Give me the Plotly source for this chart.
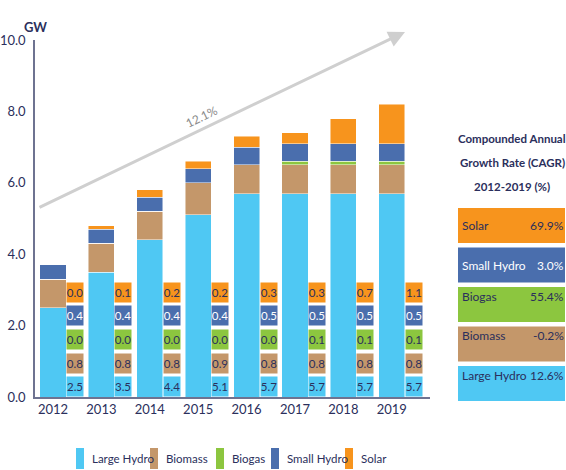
import plotly.graph_objects as go

# Installed renewable capacity by source (GW)
years = ["2012", "2013", "2014", "2015", "2016", "2017", "2018", "2019"]
large_hydro = [2.5, 3.5, 4.4, 5.1, 5.7, 5.7, 5.7, 5.7]
biomass = [0.8, 0.8, 0.8, 0.9, 0.8, 0.8, 0.8, 0.8]
biogas = [0.0, 0.0, 0.0, 0.0, 0.0, 0.1, 0.1, 0.1]
small_hydro = [0.4, 0.4, 0.4, 0.4, 0.5, 0.5, 0.5, 0.5]
solar = [0.0, 0.1, 0.2, 0.2, 0.3, 0.3, 0.7, 1.1]

series_names = ["Large Hydro", "Biomass", "Biogas", "Small Hydro", "Solar"]
series_values = [large_hydro, biomass, biogas, small_hydro, solar]
series_colors = ["#4FC8F3", "#C4976A", "#8CC63F", "#4A6EAD", "#F7941D"]
label_text_colors = ["#2B2F5C", "#2B2F5C", "#2B2F5C", "#FFFFFF", "#2B2F5C"]

# CAGR 2012-2019 (%) per source, listed top to bottom
cagr_title = ["Compounded Annual", "Growth Rate (CAGR)", "2012-2019 (%)"]
cagr_names = ["Solar", "Small Hydro", "Biogas", "Biomass", "Large Hydro"]
cagr_values = ["69.9%", "3.0%", "55.4%", "-0.2%", "12.6%"]
overall_growth = "12.1%"

NAVY = "#2B2F5C"
FONT = "Lato, sans-serif"

x_pos = list(range(len(years)))

# plot-area geometry in pixels, used to place panel items in paper units
PLOT_L, PLOT_W, PLOT_B, PLOT_H = 35, 395, 397, 357


def px_x(px):
    return (px - PLOT_L) / PLOT_W


def px_y(py):
    return (PLOT_B - py) / PLOT_H


fig = go.Figure()
for name, vals, col in zip(series_names, series_values, series_colors):
    fig.add_trace(go.Bar(
        x=x_pos, y=vals, name=name,
        marker=dict(color=col, line=dict(color="rgba(255,255,255,0.6)", width=0.8)),
        width=0.54,
        hoverinfo="skip",
    ))

annotations = []
shapes = []

# value boxes beside each bar, stacked in series order
row_pitch = 0.662
for k, (vals, col, tcol) in enumerate(zip(series_values, series_colors, label_text_colors)):
    for i, v in enumerate(vals):
        annotations.append(dict(
            x=x_pos[i], y=0.29 + k * row_pitch, xref="x", yref="y",
            xshift=22, text=f"{v:.1f}", showarrow=False,
            bgcolor=col, width=16, height=19, borderpad=0,
            font=dict(family=FONT, size=11.5, color=tcol),
        ))

# unit label
annotations.append(dict(
    x=px_x(35), y=px_y(17), xref="paper", yref="paper", xanchor="center",
    text="<b>GW</b>", showarrow=False, font=dict(family=FONT, size=13, color=NAVY),
))

# overall growth arrow
annotations.append(dict(
    x=px_x(405), y=px_y(32), xref="paper", yref="paper",
    ax=-367, ay=176, axref="pixel", ayref="pixel",
    showarrow=True, arrowhead=2, arrowsize=1.1, arrowwidth=3, arrowcolor="#CFCFCF",
    text="",
))
annotations.append(dict(
    x=px_x(202), y=px_y(100), xref="paper", yref="paper",
    text=overall_growth, textangle=-26, showarrow=False,
    font=dict(family=FONT, size=12, color="#8A8A8A"),
))

# CAGR panel title, one line per annotation
for line, py in zip(cagr_title, [138, 162, 186]):
    annotations.append(dict(
        x=px_x(512), y=px_y(py), xref="paper", yref="paper",
        xanchor="center", yanchor="middle",
        text=f"<b>{line}</b>", showarrow=False,
        font=dict(family=FONT, size=11.5, color=NAVY),
    ))

panel_colors = ["#F7941D", "#4A6EAD", "#8CC63F", "#C4976A", "#4FC8F3"]
panel_text = [NAVY, "#FFFFFF", NAVY, NAVY, NAVY]
box_x0, box_x1 = 458, 565
for j, (nm, val, col, tcol) in enumerate(zip(cagr_names, cagr_values, panel_colors, panel_text)):
    top = 208 + j * 39.5
    bot = top + 35
    shapes.append(dict(
        type="rect", xref="paper", yref="paper",
        x0=px_x(box_x0), x1=px_x(box_x1), y0=px_y(bot), y1=px_y(top),
        fillcolor=col, line=dict(width=0), layer="above",
    ))
    mid = px_y((top + bot) / 2)
    annotations.append(dict(
        x=px_x(box_x0 + 3), y=mid, xref="paper", yref="paper",
        xanchor="left", text=nm, showarrow=False, borderpad=0,
        font=dict(family=FONT, size=12, color=tcol),
    ))
    annotations.append(dict(
        x=px_x(box_x1), y=mid, xref="paper", yref="paper",
        xanchor="right", text=val, showarrow=False, borderpad=0,
        font=dict(family=FONT, size=12, color=tcol),
    ))

# legend row beneath the axis
legend_swatch_x = [76, 150, 216, 271, 345]
for name, col, sx in zip(series_names, series_colors, legend_swatch_x):
    shapes.append(dict(
        type="rect", xref="paper", yref="paper",
        x0=px_x(sx), x1=px_x(sx + 8), y0=px_y(469), y1=px_y(448),
        fillcolor=col, line=dict(width=0),
    ))
    annotations.append(dict(
        x=px_x(sx + 14), y=px_y(458), xref="paper", yref="paper",
        xanchor="left", yanchor="middle", text=name, showarrow=False,
        font=dict(family=FONT, size=11.5, color=NAVY),
    ))

fig.update_layout(
    width=566, height=470,
    margin=dict(l=35, r=136, t=40, b=73),
    barmode="stack",
    plot_bgcolor="white", paper_bgcolor="white",
    font=dict(family=FONT, color=NAVY),
    showlegend=False,
    xaxis=dict(
        tickmode="array", tickvals=x_pos, ticktext=years,
        range=[-0.372, 7.79], showgrid=False, zeroline=False,
        showline=True, linecolor="#6E7391", linewidth=1.5, automargin=False,
        ticks="", tickfont=dict(family=FONT, size=13, color=NAVY),
    ),
    yaxis=dict(
        range=[0, 10], dtick=2, tickformat=".1f", showgrid=False, zeroline=False,
        showline=True, linecolor="#6E7391", linewidth=1.5, automargin=False,
        ticks="", ticklabelstandoff=5, tickfont=dict(family=FONT, size=13, color=NAVY),
    ),
    annotations=annotations,
    shapes=shapes,
)

fig.write_html("out.html")
